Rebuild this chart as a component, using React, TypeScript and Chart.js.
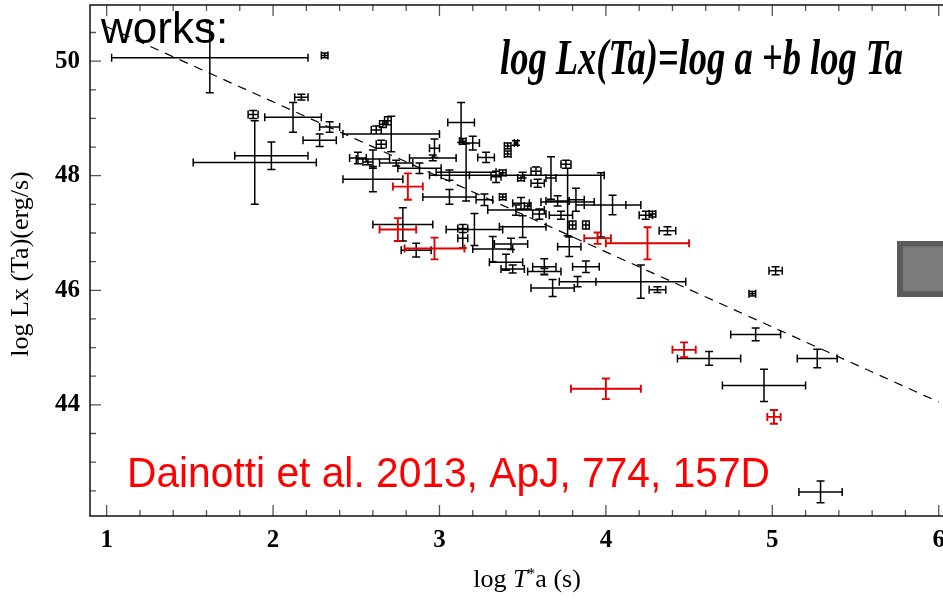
import React, { useEffect, useRef } from "react";
import { Chart, registerables } from "chart.js";

Chart.register(...registerables);

// ---- axis ticks ----
const xTicks = [1, 2, 3, 4, 5, 6];
const yTicks = [44, 46, 48, 50];
const X_MIN = 0.9;
const X_MAX = 6.2;
const Y_MIN = 42.06;
const Y_MAX = 50.98;

// ---- black sample: log T*a, log Lx(Ta), errors ----
const blackX = [
  1.62, 2.31, 2.17, 1.88, 2.12, 2.34, 2.28, 1.89, 1.99, 2.71,
  2.60, 3.13, 2.69, 2.66, 2.62, 2.65, 2.51, 2.57, 2.60, 2.74,
  2.97, 2.96, 2.88, 3.14, 3.20, 3.28, 3.41, 3.41, 3.46, 3.16,
  3.06, 3.34, 3.38, 3.49, 3.58, 3.59, 3.67, 3.76, 3.77, 3.50,
  3.97, 4.04, 4.24, 4.28, 2.78, 2.86, 3.14, 3.14, 3.21, 3.32,
  3.43, 3.50, 3.40, 3.44, 3.63, 3.63, 3.88, 3.68, 3.83, 4.21,
  4.31, 3.80, 3.88, 3.78, 4.37, 3.46, 3.73, 5.02, 4.88, 4.90,
  4.62, 5.27, 4.95, 5.29, 3.06, 3.27, 3.38, 3.49, 3.53, 3.60,
  3.71, 3.82,
];
const blackY = [
  50.06, 50.10, 49.37, 49.07, 49.02, 48.85, 48.62, 48.23, 48.35, 48.73,
  47.94, 48.93, 48.96, 48.90, 48.80, 48.55, 48.31, 48.24, 48.29, 48.22,
  48.48, 48.31, 48.13, 48.60, 48.57, 48.32, 48.52, 48.38, 48.57, 48.06,
  48.01, 47.98, 48.05, 47.96, 48.08, 47.87, 47.96, 48.20, 47.54, 48.01,
  47.49, 47.49, 47.31, 47.33, 47.15, 46.70, 47.08, 46.91, 47.06, 46.72,
  46.81, 47.11, 46.49, 46.37, 46.41, 46.33, 46.41, 46.04, 46.15, 46.15,
  46.01, 47.14, 47.14, 46.76, 47.04, 47.40, 47.31, 46.34, 45.94, 45.23,
  44.81, 44.81, 44.34, 42.48, 47.63, 47.58, 47.63, 47.52, 47.47, 47.33,
  47.56, 47.58,
];
const blackEx = [
  0.59, 0.02, 0.04, 0.03, 0.17, 0.06, 0.10, 0.37, 0.22, 0.29,
  0.18, 0.08, 0.02, 0.02, 0.03, 0.03, 0.05, 0.03, 0.10, 0.10,
  0.03, 0.14, 0.13, 0.02, 0.04, 0.05, 0.02, 0.02, 0.01, 0.18,
  0.12, 0.03, 0.02, 0.02, 0.03, 0.04, 0.03, 0.03, 0.16, 0.49,
  0.15, 0.17, 0.04, 0.02, 0.18, 0.09, 0.03, 0.03, 0.17, 0.12,
  0.10, 0.14, 0.10, 0.07, 0.07, 0.10, 0.08, 0.13, 0.11, 0.27,
  0.05, 0.02, 0.02, 0.07, 0.05, 0.17, 0.07, 0.04, 0.02, 0.15,
  0.19, 0.12, 0.25, 0.13, 0.16, 0.05, 0.02, 0.05, 0.02, 0.04,
  0.07, 0.05,
];
const blackEy = [
  0.61, 0.04, 0.05, 0.07, 0.26, 0.09, 0.11, 0.73, 0.24, 0.31,
  0.22, 0.35, 0.07, 0.06, 0.07, 0.07, 0.10, 0.05, 0.16, 0.05,
  0.16, 0.05, 0.09, 0.05, 0.12, 0.09, 0.05, 0.05, 0.04, 0.50,
  0.09, 0.10, 0.05, 0.05, 0.07, 0.07, 0.37, 0.07, 0.59, 0.05,
  0.56, 0.17, 0.07, 0.05, 0.29, 0.12, 0.07, 0.17, 0.28, 0.22,
  0.10, 0.19, 0.14, 0.07, 0.14, 0.05, 0.10, 0.15, 0.09, 0.29,
  0.05, 0.07, 0.07, 0.17, 0.07, 0.09, 0.07, 0.07, 0.04, 0.11,
  0.12, 0.16, 0.28, 0.19, 0.13, 0.10, 0.05, 0.10, 0.05, 0.09,
  0.09, 0.20,
];

// ---- red sample ----
const redX = [2.81, 2.75, 2.97, 3.95, 4.25, 4.47, 4.00, 5.01];
const redY = [47.81, 47.06, 46.73, 46.91, 46.82, 44.96, 44.28, 43.79];
const redEx = [0.09, 0.11, 0.18, 0.08, 0.25, 0.07, 0.21, 0.04];
const redEy = [0.23, 0.20, 0.19, 0.10, 0.28, 0.13, 0.18, 0.12];

// ---- fitted relation (dashed) ----
const fitX = [1, 6];
const fitY = [50.6, 44.05];

const RED = "#e30000";
const SERIF = '"Liberation Serif", "Times New Roman", serif';
const SANS = '"Liberation Sans", Arial, sans-serif';

const errorBarPlugin = {
  id: "errorBars",
  afterDatasetsDraw(chart: any) {
    const ctx = chart.ctx;
    const xs = chart.scales.x;
    const ys = chart.scales.y;
    const cap = 4;
    chart.data.datasets.forEach((ds: any) => {
      if (!ds.isErrorSet) return;
      ctx.save();
      ctx.strokeStyle = ds.borderColor;
      ctx.lineWidth = ds.errorWidth || 1.5;
      ctx.beginPath();
      ds.data.forEach((p: any) => {
        const cx = xs.getPixelForValue(p.x);
        const cy = ys.getPixelForValue(p.y);
        const x0 = xs.getPixelForValue(p.x - p.ex);
        const x1 = xs.getPixelForValue(p.x + p.ex);
        const y0 = ys.getPixelForValue(p.y - p.ey);
        const y1 = ys.getPixelForValue(p.y + p.ey);
        ctx.moveTo(x0, cy);
        ctx.lineTo(x1, cy);
        ctx.moveTo(cx, y0);
        ctx.lineTo(cx, y1);
        ctx.moveTo(x0, cy - cap);
        ctx.lineTo(x0, cy + cap);
        ctx.moveTo(x1, cy - cap);
        ctx.lineTo(x1, cy + cap);
        ctx.moveTo(cx - cap, y0);
        ctx.lineTo(cx + cap, y0);
        ctx.moveTo(cx - cap, y1);
        ctx.lineTo(cx + cap, y1);
      });
      ctx.stroke();
      ctx.restore();
    });
  },
};

const framePlugin = {
  id: "frameTicks",
  afterDatasetsDraw(chart: any) {
    const ctx = chart.ctx;
    const a = chart.chartArea;
    const xs = chart.scales.x;
    const ys = chart.scales.y;
    ctx.save();
    ctx.strokeStyle = "#555";
    ctx.lineWidth = 1.3;
    ctx.beginPath();
    for (let k = Math.ceil(X_MIN * 5); k <= Math.floor(X_MAX * 5); k++) {
      const v = k / 5;
      const px = xs.getPixelForValue(v);
      const major = xTicks.some((t) => Math.abs(t - v) < 1e-6);
      const len = major ? 11 : 6;
      ctx.moveTo(px, a.bottom);
      ctx.lineTo(px, a.bottom - len);
      ctx.moveTo(px, a.top);
      ctx.lineTo(px, a.top + len);
    }
    for (let k = Math.ceil(Y_MIN * 2); k <= Math.floor(Y_MAX * 2); k++) {
      const v = k / 2;
      const py = ys.getPixelForValue(v);
      const major = yTicks.some((t) => Math.abs(t - v) < 1e-6);
      const len = major ? 11 : 6;
      ctx.moveTo(a.left, py);
      ctx.lineTo(a.left + len, py);
      ctx.moveTo(a.right, py);
      ctx.lineTo(a.right - len, py);
    }
    ctx.stroke();
    ctx.strokeStyle = "#111";
    ctx.lineWidth = 1.5;
    ctx.strokeRect(a.left, a.top, a.right - a.left, a.bottom - a.top);
    ctx.restore();
  },
};

const textPlugin = {
  id: "annotText",
  afterDraw(chart: any) {
    const ctx = chart.ctx;
    ctx.save();

    // decorative grey square at right edge
    ctx.fillStyle = "#5b5b5b";
    ctx.fillRect(897, 241, 70, 56);
    ctx.fillStyle = "#7b7b7c";
    ctx.fillRect(903, 246.5, 70, 44.5);

    // works:
    ctx.fillStyle = "#000";
    ctx.textAlign = "left";
    ctx.textBaseline = "alphabetic";
    ctx.font = `44px ${SANS}`;
    ctx.fillText("works:", 101, 43);

    // formula
    const formula = "log Lx(Ta)=log a +b log Ta";
    ctx.font = `italic bold 50px ${SERIF}`;
    const fw = ctx.measureText(formula).width;
    ctx.save();
    ctx.translate(500, 74);
    ctx.scale(403 / fw, 1);
    ctx.fillText(formula, 0, 0);
    ctx.restore();

    // reference
    const ref = "Dainotti et al. 2013, ApJ, 774, 157D";
    ctx.font = `42px ${SANS}`;
    const rw = ctx.measureText(ref).width;
    ctx.save();
    ctx.fillStyle = "#ff0000";
    ctx.translate(127, 487);
    ctx.scale(643 / rw, 1);
    ctx.fillText(ref, 0, 0);
    ctx.restore();

    // x title: log T*a (s)
    const parts = [
      { t: "log ", f: `26px ${SERIF}`, dy: 0 },
      { t: "T", f: `italic 26px ${SERIF}`, dy: 0 },
      { t: "*", f: `16px ${SERIF}`, dy: -8 },
      { t: "a (s)", f: `26px ${SERIF}`, dy: 0 },
    ];
    let total = 0;
    parts.forEach((p) => {
      ctx.font = p.f;
      total += ctx.measureText(p.t).width;
    });
    let cx = 527 - total / 2;
    ctx.fillStyle = "#000";
    parts.forEach((p) => {
      ctx.font = p.f;
      ctx.fillText(p.t, cx, 587 + p.dy);
      cx += ctx.measureText(p.t).width;
    });

    // y title
    ctx.save();
    ctx.translate(28, 264);
    ctx.rotate(-Math.PI / 2);
    ctx.textAlign = "center";
    ctx.font = `26px ${SERIF}`;
    ctx.fillText("log Lx (Ta)(erg/s)", 0, 0);
    ctx.restore();

    ctx.restore();
  },
};

export default function App() {
  const canvasRef = useRef<HTMLCanvasElement | null>(null);

  useEffect(() => {
    const canvas = canvasRef.current;
    if (!canvas) return;
    const blackData = blackX.map((x, i) => ({ x, y: blackY[i], ex: blackEx[i], ey: blackEy[i] }));
    const redData = redX.map((x, i) => ({ x, y: redY[i], ex: redEx[i], ey: redEy[i] }));
    const fitData = fitX.map((x, i) => ({ x, y: fitY[i] }));

    const tickFont = { family: SERIF, size: 25, weight: "bold" as const };

    const chart = new Chart(canvas, {
      type: "scatter",
      data: {
        datasets: [
          {
            type: "line",
            label: "fit",
            data: fitData,
            borderColor: "#000",
            borderWidth: 1.2,
            borderDash: [9, 7],
            pointRadius: 0,
            fill: false,
          } as any,
          {
            label: "sample",
            data: blackData,
            borderColor: "#000",
            backgroundColor: "#000",
            pointRadius: 0,
            isErrorSet: true,
            errorWidth: 1.5,
          } as any,
          {
            label: "red sample",
            data: redData,
            borderColor: RED,
            backgroundColor: RED,
            pointRadius: 0,
            isErrorSet: true,
            errorWidth: 1.9,
          } as any,
        ],
      },
      options: {
        responsive: false,
        animation: false,
        events: [],
        layout: { padding: { top: 5, right: 8, left: 0, bottom: 0 } },
        plugins: {
          legend: { display: false },
          tooltip: { enabled: false },
        },
        scales: {
          x: {
            type: "linear",
            min: X_MIN,
            max: X_MAX,
            grid: { display: false, drawTicks: false },
            border: { display: false },
            ticks: { font: tickFont, color: "#000", padding: 10, maxRotation: 0 },
            afterBuildTicks: (s: any) => {
              s.ticks = xTicks.map((v) => ({ value: v }));
            },
            afterFit: (s: any) => {
              s.height = 84;
              s.paddingLeft = 0;
              s.paddingRight = 0;
            },
          },
          y: {
            type: "linear",
            min: Y_MIN,
            max: Y_MAX,
            grid: { display: false, drawTicks: false },
            border: { display: false },
            ticks: { font: tickFont, color: "#000", padding: 10 },
            afterBuildTicks: (s: any) => {
              s.ticks = yTicks.map((v) => ({ value: v }));
            },
            afterFit: (s: any) => {
              s.width = 90;
              s.paddingTop = 0;
              s.paddingBottom = 0;
            },
          },
        },
      } as any,
      plugins: [framePlugin, errorBarPlugin, textPlugin],
    });
    return () => chart.destroy();
  }, []);

  return (
    <div
      style={{
        position: "fixed",
        left: 0,
        top: 0,
        width: 943,
        height: 600,
        overflow: "hidden",
        background: "#fff",
      }}
    >
      <canvas ref={canvasRef} width={980} height={600} style={{ display: "block" }} />
    </div>
  );
}
